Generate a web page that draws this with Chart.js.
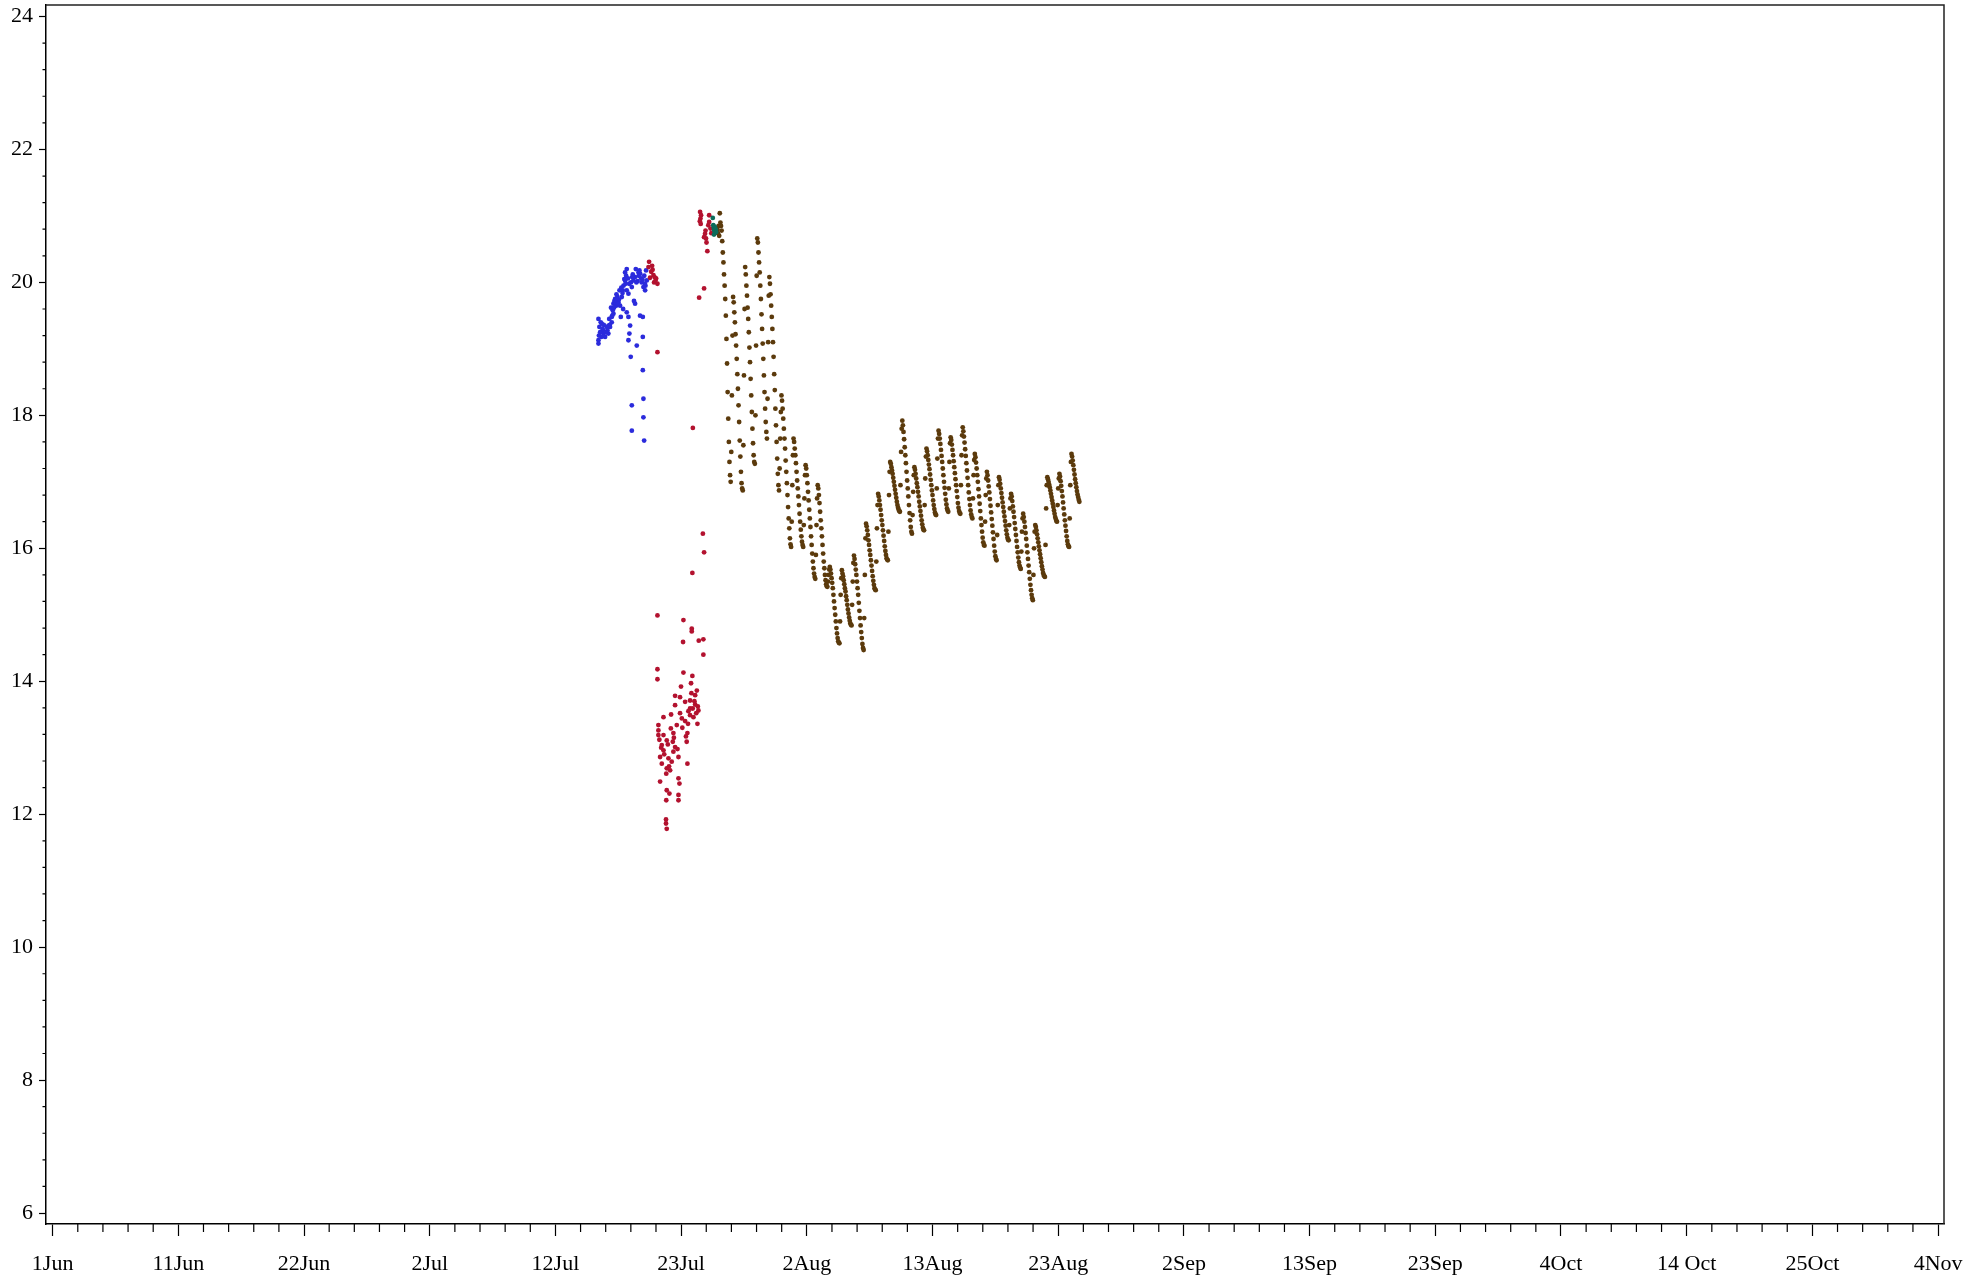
<!DOCTYPE html>
<html>
<head>
<meta charset="utf-8">
<script src="https://cdn.jsdelivr.net/npm/chart.js@4.4.1/dist/chart.umd.min.js"></script>
<style>
  html, body { margin: 0; padding: 0; background: #fff; }
  #wrap { width: 1982px; height: 1281px; }
</style>
</head>
<body>
<div id="wrap"><canvas id="plot"></canvas></div>
<script>
// x axis: days counted from 1 June
const xTickDays = [0, 10.4, 20.8, 31.2, 41.6, 52, 62.4, 72.8, 83.2, 93.6, 104, 114.4, 124.8, 135.2, 145.6, 156];
const xTickLabels = ["1Jun", "11Jun", "22Jun", "2Jul", "12Jul", "23Jul", "2Aug", "13Aug", "23Aug",
                     "2Sep", "13Sep", "23Sep", "4Oct", "14 Oct", "25Oct", "4Nov"];

// first logger (blue)
const blueDays = [45.16, 45.24, 45.16, 45.16, 45.43, 45.52, 45.71, 45.98, 46.12, 46.26, 46.26, 46.34, 46.40, 46.54,
  46.62, 46.73, 46.81, 46.95, 47.09, 47.01, 47.23, 47.36, 47.36, 47.50, 47.50, 47.64, 47.64, 47.78, 47.72, 47.64,
  47.83, 47.92, 48.05, 48.19, 48.19, 48.47, 48.33, 48.61, 48.74, 48.83, 48.83, 48.88, 49.02, 49.16, 49.10, 48.83,
  48.88, 48.88, 48.94, 47.92, 47.92, 45.35, 45.57, 45.85, 46.40, 46.90, 47.17, 45.30, 45.60, 45.90, 46.05, 46.20,
  46.48, 46.65, 46.85, 47.05, 47.30, 47.45, 47.70, 47.85, 48.00, 48.25, 48.40, 48.55, 48.70, 48.95, 49.05, 46.30,
  46.10, 45.40, 45.80, 47.20, 47.50, 48.10, 48.60, 45.20, 45.50, 46.00, 46.45, 46.70, 47.15, 47.40, 47.60, 47.95,
  48.30, 48.50, 48.80, 49.00, 46.58, 46.78];
const blueTemps = [19.45, 19.33, 19.13, 19.08, 19.38, 19.28, 19.18, 19.23, 19.33, 19.40, 19.48, 19.58, 19.68, 19.75,
  19.65, 19.78, 19.70, 19.65, 19.78, 19.48, 19.95, 20.15, 20.03, 20.20, 19.88, 19.83, 19.48, 19.35, 19.23, 19.13,
  18.88, 19.93, 20.03, 20.08, 19.68, 20.15, 19.05, 20.13, 20.00, 19.48, 19.18, 19.93, 19.88, 20.03, 20.18, 18.68,
  18.25, 17.97, 17.62, 18.15, 17.77, 19.40, 19.23, 19.33, 19.53, 19.88, 19.88, 19.25, 19.36, 19.28, 19.45, 19.62,
  19.72, 19.82, 19.74, 19.92, 20.05, 20.10, 19.98, 20.00, 20.12, 20.20, 20.02, 20.18, 20.06, 20.10, 19.95, 19.50,
  19.36, 19.18, 19.25, 19.60, 19.55, 19.72, 19.50, 19.20, 19.30, 19.35, 19.62, 19.76, 19.84, 19.98, 20.06, 20.08,
  20.00, 20.10, 20.04, 19.98, 19.70, 19.68];

// second logger (red)
const redDays = [49.35, 49.30, 49.52, 49.64, 49.71, 49.43, 49.93, 49.76, 50.04, 49.88, 49.60, 49.80, 50.04,
  52.93, 50.04, 52.19, 52.88, 52.88, 52.16, 53.46, 53.84, 53.84, 50.04, 50.04, 52.19, 52.93, 52.82, 51.99, 53.30,
  51.50, 51.91, 53.16, 52.74, 52.33, 51.50, 53.16, 52.74, 52.96, 53.43, 51.17, 51.91, 52.74, 50.54, 52.06, 53.02,
  52.33, 53.35, 52.57, 51.64, 50.12, 50.12, 51.15, 52.52, 51.36, 50.54, 50.12, 52.40, 50.81, 51.31, 50.40, 51.50,
  52.46, 50.54, 51.36, 50.26, 50.95, 51.78, 52.52, 51.22, 50.40, 50.81, 51.09, 50.77, 51.78, 51.86, 50.26, 50.81,
  51.03, 51.78, 51.78, 50.77, 50.75, 50.75, 50.81,
  53.90, 53.49, 52.97, 53.80, 53.90,
  53.57, 53.60, 53.65, 53.55, 53.62, 54.32, 54.32, 54.25, 53.98, 54.06, 53.90, 54.17, 54.43, 54.50, 54.02, 54.10,
  50.20, 50.60, 50.90, 51.40, 51.70, 52.10, 52.60, 53.10, 53.25, 50.35, 51.00, 52.85, 53.38];
const redTemps = [20.31, 20.23, 20.16, 20.19, 20.11, 20.07, 20.06, 20.00, 19.98, 20.03, 20.25, 20.08, 18.95,
  15.63, 14.99, 14.92, 14.79, 14.75, 14.59, 14.61, 14.63, 14.40, 14.18, 14.03, 14.13, 14.08, 13.97, 13.92, 13.86,
  13.78, 13.76, 13.79, 13.71, 13.69, 13.64, 13.65, 13.59, 13.59, 13.56, 13.50, 13.52, 13.49, 13.46, 13.44, 13.46,
  13.40, 13.36, 13.36, 13.34, 13.34, 13.26, 13.29, 13.22, 13.22, 13.19, 13.19, 13.17, 13.11, 13.09, 13.04, 13.01,
  13.09, 12.96, 12.94, 12.86, 12.84, 12.86, 12.76, 12.79, 12.76, 12.69, 12.66, 12.61, 12.54, 12.46, 12.49, 12.36,
  12.31, 12.29, 12.21, 12.21, 11.92, 11.86, 11.78,
  19.91, 19.77, 17.81, 16.22, 15.94,
  21.06, 20.96, 21.01, 20.92, 20.88, 21.01, 20.91, 20.86, 20.73, 20.66, 20.68, 20.47, 20.81, 20.74, 20.78, 20.60,
  13.12, 12.90, 13.05, 13.15, 12.98, 13.30, 13.55, 13.70, 13.52, 13.00, 12.72, 13.82, 13.62];

// third logger (green), short overlap
const tealDays = [54.62, 54.66, 54.70, 54.74, 54.78, 54.82, 54.86, 54.72, 54.90];
const tealTemps = [20.97, 20.86, 20.82, 20.78, 20.84, 20.75, 20.80, 20.72, 20.76];

// fourth logger (brown), one reading every 0.05 day
const brownStart = 55.0;
const brownStep = 0.05;
const brownTemps = [
  20.80, 20.74, 20.85, 20.70, 21.04, 20.90,
  20.85, 20.78, 20.62, 20.45, 20.30, 20.12, 19.95, 19.75, 19.50, 19.15, 18.78, 18.35, 17.95, 17.60, 17.30, 17.10, 17.00, 17.45, 18.30, 19.20,
  19.78, 19.70, 19.55, 19.40, 19.22, 19.05, 18.85, 18.62, 18.40, 18.15, 17.90, 17.62, 17.38, 17.15, 16.98, 16.90, 16.87, 17.55, 18.60, 19.60,
  20.23, 20.12, 19.95, 19.80, 19.62, 19.45, 19.25, 19.02, 18.80, 18.55, 18.30, 18.05, 17.80, 17.58, 17.40, 17.30, 17.27, 18.00, 19.05, 20.10,
  20.66, 20.60, 20.45, 20.30, 20.15, 19.95, 19.75, 19.52, 19.30, 19.08, 18.85, 18.60, 18.35, 18.10, 17.90, 17.75, 17.65, 18.25, 19.10, 19.80,
  20.08, 19.98, 19.82, 19.65, 19.48, 19.30, 19.10, 18.88, 18.62, 18.38, 18.10, 17.85, 17.60, 17.35, 17.12, 16.95, 16.87, 17.20, 17.65, 18.05,
  18.30, 18.22, 18.10, 17.95, 17.80, 17.65, 17.50, 17.32, 17.15, 16.98, 16.80, 16.62, 16.45, 16.30, 16.15, 16.06, 16.02, 16.40, 16.95, 17.40,
  17.65, 17.60, 17.50, 17.40, 17.28, 17.15, 17.02, 16.90, 16.78, 16.65, 16.52, 16.40, 16.28, 16.18, 16.10, 16.05, 16.02, 16.35, 16.75, 17.10,
  17.25, 17.20, 17.10, 16.98, 16.85, 16.72, 16.58, 16.45, 16.32, 16.18, 16.05, 15.92, 15.80, 15.70, 15.62, 15.57, 15.54, 15.90, 16.35, 16.75,
  16.95, 16.90, 16.80, 16.68, 16.55, 16.42, 16.30, 16.18, 16.05, 15.92, 15.80, 15.70, 15.60, 15.52, 15.46, 15.43, 15.42, 15.50, 15.60, 15.68,
  15.72, 15.68, 15.62, 15.55, 15.48, 15.40, 15.30, 15.20, 15.10, 15.00, 14.90, 14.80, 14.72, 14.65, 14.60, 14.58, 14.57, 14.90, 15.30, 15.55,
  15.67, 15.62, 15.58, 15.52, 15.46, 15.40, 15.35, 15.28, 15.22, 15.15, 15.08, 15.02, 14.96, 14.91, 14.87, 14.85, 14.84, 15.15, 15.50, 15.78,
  15.89, 15.84, 15.76, 15.68, 15.60, 15.50, 15.40, 15.30, 15.18, 15.06, 14.95, 14.84, 14.74, 14.65, 14.56, 14.50, 14.47, 14.95, 15.60, 16.15,
  16.37, 16.33, 16.27, 16.20, 16.12, 16.05, 15.97, 15.90, 15.82, 15.74, 15.66, 15.58, 15.51, 15.45, 15.40, 15.38, 15.37, 15.80, 16.30, 16.65,
  16.82, 16.78, 16.72, 16.65, 16.58, 16.50, 16.42, 16.35, 16.27, 16.19, 16.11, 16.03, 15.96, 15.90, 15.85, 15.83, 15.82, 16.25, 16.80, 17.15,
  17.30, 17.27, 17.22, 17.17, 17.12, 17.06, 17.00, 16.94, 16.88, 16.82, 16.76, 16.70, 16.65, 16.61, 16.58, 16.56, 16.55, 16.95, 17.45, 17.80,
  17.92, 17.85, 17.75, 17.64, 17.52, 17.40, 17.28, 17.15, 17.02, 16.90, 16.78, 16.65, 16.53, 16.42, 16.32, 16.25, 16.22, 16.50, 16.85, 17.10,
  17.22, 17.18, 17.12, 17.05, 16.98, 16.92, 16.85, 16.78, 16.70, 16.63, 16.56, 16.49, 16.42, 16.36, 16.31, 16.28, 16.27, 16.65, 17.05, 17.38,
  17.50, 17.46, 17.40, 17.33, 17.26, 17.19, 17.11, 17.03, 16.95, 16.87, 16.80, 16.72, 16.65, 16.59, 16.54, 16.51, 16.50, 16.90, 17.35, 17.65,
  17.77, 17.72, 17.65, 17.57, 17.48, 17.39, 17.30, 17.20, 17.10, 17.00, 16.91, 16.82, 16.73, 16.66, 16.60, 16.57, 16.55, 16.90, 17.30, 17.58,
  17.67, 17.63, 17.56, 17.48, 17.40, 17.31, 17.22, 17.13, 17.04, 16.95, 16.86, 16.77, 16.68, 16.61, 16.56, 16.53, 16.52, 16.95, 17.40, 17.70,
  17.82, 17.76, 17.68, 17.59, 17.49, 17.39, 17.28, 17.17, 17.06, 16.95, 16.84, 16.74, 16.65, 16.57, 16.51, 16.47, 16.45, 16.75, 17.10, 17.33,
  17.42, 17.37, 17.29, 17.20, 17.10, 17.00, 16.89, 16.78, 16.67, 16.56, 16.45, 16.35, 16.25, 16.16, 16.09, 16.05, 16.04, 16.40, 16.80, 17.05,
  17.15, 17.10, 17.02, 16.93, 16.84, 16.74, 16.64, 16.54, 16.44, 16.34, 16.24, 16.14, 16.04, 15.95, 15.88, 15.84, 15.82, 16.20, 16.65, 16.95,
  17.07, 17.03, 16.97, 16.90, 16.83, 16.76, 16.69, 16.62, 16.55, 16.48, 16.41, 16.34, 16.27, 16.21, 16.16, 16.13, 16.12, 16.35, 16.60, 16.75,
  16.82, 16.78, 16.71, 16.63, 16.55, 16.47, 16.38, 16.29, 16.20, 16.11, 16.02, 15.94, 15.86, 15.79, 15.74, 15.71, 15.69, 15.95, 16.25, 16.45,
  16.52, 16.47, 16.40, 16.32, 16.23, 16.14, 16.04, 15.94, 15.84, 15.74, 15.64, 15.54, 15.45, 15.37, 15.30, 15.25, 15.22, 15.60, 16.00, 16.25,
  16.35, 16.32, 16.27, 16.21, 16.15, 16.09, 16.03, 15.97, 15.91, 15.85, 15.79, 15.73, 15.68, 15.63, 15.60, 15.58, 15.57, 16.05, 16.60, 16.95,
  17.07, 17.04, 17.00, 16.96, 16.92, 16.87, 16.82, 16.77, 16.72, 16.67, 16.62, 16.57, 16.52, 16.47, 16.44, 16.41, 16.40, 16.65, 16.90, 17.05,
  17.12, 17.08, 17.01, 16.94, 16.86, 16.78, 16.69, 16.60, 16.51, 16.42, 16.34, 16.26, 16.18, 16.11, 16.06, 16.03, 16.02, 16.45, 16.95, 17.30,
  17.42, 17.38, 17.32, 17.25, 17.18, 17.11, 17.04, 16.98, 16.92, 16.86, 16.81, 16.77, 16.73, 16.70
];

function pairs(days, temps) {
  return temps.map((t, i) => ({ x: days[i], y: t }));
}
const brownDays = brownTemps.map((t, i) => brownStart + i * brownStep);

// small ticks between the labelled ones, plus the top and right edges of the box
const minorTicks = {
  id: "minorTicks",
  afterDraw(chart) {
    const { ctx, chartArea, scales } = chart;
    const x = scales.x, y = scales.y;
    ctx.save();
    ctx.strokeStyle = "#000";
    ctx.lineWidth = 1.2;
    ctx.beginPath();
    for (let i = 0; i < xTickDays.length - 1; i++) {
      const gap = (xTickDays[i + 1] - xTickDays[i]) / 5;
      for (let k = 1; k < 5; k++) {
        const px = x.getPixelForValue(xTickDays[i] + k * gap);
        ctx.moveTo(px, chartArea.bottom);
        ctx.lineTo(px, chartArea.bottom + 8);
      }
    }
    for (let v = 6; v < 24; v += 2) {
      for (let k = 1; k < 5; k++) {
        const py = y.getPixelForValue(v + k * 0.4);
        ctx.moveTo(chartArea.left, py);
        ctx.lineTo(chartArea.left - 3.5, py);
      }
    }
    ctx.stroke();
    ctx.lineWidth = 1.5;
    ctx.strokeStyle = "#222";
    ctx.beginPath();
    ctx.moveTo(chartArea.left, chartArea.top);
    ctx.lineTo(chartArea.right, chartArea.top);
    ctx.lineTo(chartArea.right, chartArea.bottom);
    ctx.stroke();
    ctx.restore();
  }
};

Chart.defaults.font.family = "'Liberation Serif', 'Times New Roman', serif";
Chart.defaults.font.size = 22;
Chart.defaults.color = "#000";

const dot = { pointRadius: 2.4, pointHoverRadius: 2.4, pointBorderWidth: 0, showLine: false };

// datasets listed first are painted last (on top)
new Chart(document.getElementById("plot"), {
  type: "scatter",
  data: {
    datasets: [
      { ...dot, label: "green", data: pairs(tealDays, tealTemps), backgroundColor: "#0b6b5b" },
      { ...dot, label: "red", data: pairs(redDays, redTemps), backgroundColor: "#b3122f" },
      { ...dot, label: "blue", data: pairs(blueDays, blueTemps), backgroundColor: "#2b2bdc" },
      { ...dot, label: "brown", data: pairs(brownDays, brownTemps), backgroundColor: "#5b3a0c" }
    ]
  },
  options: {
    responsive: true,
    maintainAspectRatio: false,
    animation: false,
    devicePixelRatio: 1,
    layout: { padding: { top: 5, right: 38, left: 0, bottom: 0 } },
    plugins: { legend: { display: false }, tooltip: { enabled: false } },
    scales: {
      x: {
        type: "linear",
        min: -0.55,
        max: 156.49,
        afterFit(scale) { scale.height = 57; },
        afterBuildTicks(scale) { scale.ticks = xTickDays.map(v => ({ value: v })); },
        border: { display: true, color: "#000", width: 1.5 },
        grid: { drawOnChartArea: false, drawTicks: true, tickLength: 12, tickColor: "#000", tickWidth: 1.2 },
        ticks: {
          autoSkip: false, maxRotation: 0, minRotation: 0, padding: 15,
          callback: (v, i) => xTickLabels[i]
        }
      },
      y: {
        min: 5.835,
        max: 24.173,
        afterFit(scale) { scale.width = 46; scale.paddingTop = 0; scale.paddingBottom = 0; },
        border: { display: true, color: "#000", width: 1.5 },
        grid: { drawOnChartArea: false, drawTicks: true, tickLength: 7, tickColor: "#000", tickWidth: 1.2 },
        ticks: { stepSize: 2, includeBounds: false, padding: 6 }
      }
    }
  },
  plugins: [minorTicks]
});
</script>
</body>
</html>
